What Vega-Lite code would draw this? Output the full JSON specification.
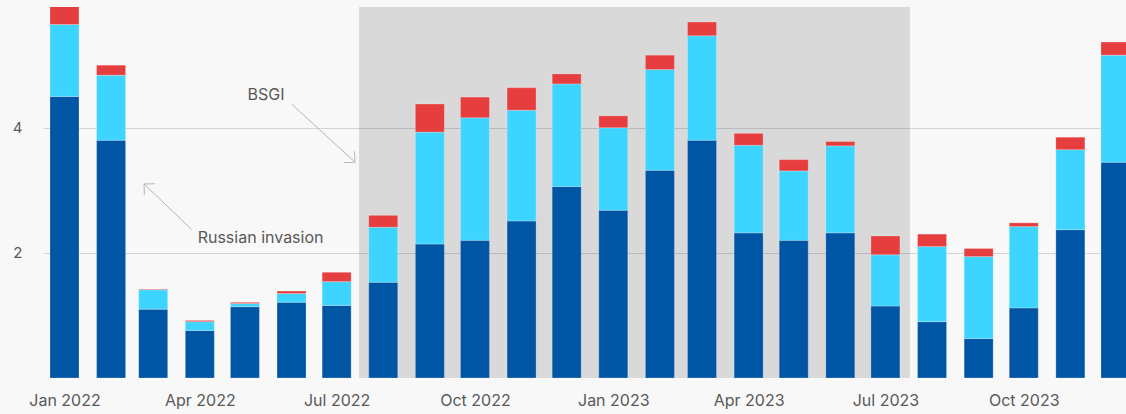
{
  "$schema": "https://vega.github.io/schema/vega-lite/v6.json",
  "width": 1083,
  "height": 371,
  "autosize": {"type": "none"},
  "padding": {"left": 43, "top": 7, "right": 0, "bottom": 36},
  "background": "#f8f8f8",
  "config": {"view": {"stroke": null}, "font": "Inter"},
  "datasets": {
    "bars": [
      {"month": "2022-01-01T00:00:00Z", "s1": 4.50, "s2": 1.15, "s3": 0.29},
      {"month": "2022-02-01T00:00:00Z", "s1": 3.80, "s2": 1.04, "s3": 0.16},
      {"month": "2022-03-01T00:00:00Z", "s1": 1.10, "s2": 0.31, "s3": 0.01},
      {"month": "2022-04-01T00:00:00Z", "s1": 0.76, "s2": 0.14, "s3": 0.02},
      {"month": "2022-05-01T00:00:00Z", "s1": 1.14, "s2": 0.05, "s3": 0.02},
      {"month": "2022-06-01T00:00:00Z", "s1": 1.21, "s2": 0.14, "s3": 0.04},
      {"month": "2022-07-01T00:00:00Z", "s1": 1.16, "s2": 0.38, "s3": 0.15},
      {"month": "2022-08-01T00:00:00Z", "s1": 1.53, "s2": 0.88, "s3": 0.19},
      {"month": "2022-09-01T00:00:00Z", "s1": 2.14, "s2": 1.79, "s3": 0.45},
      {"month": "2022-10-01T00:00:00Z", "s1": 2.20, "s2": 1.96, "s3": 0.33},
      {"month": "2022-11-01T00:00:00Z", "s1": 2.51, "s2": 1.77, "s3": 0.36},
      {"month": "2022-12-01T00:00:00Z", "s1": 3.06, "s2": 1.64, "s3": 0.16},
      {"month": "2023-01-01T00:00:00Z", "s1": 2.68, "s2": 1.32, "s3": 0.19},
      {"month": "2023-02-01T00:00:00Z", "s1": 3.32, "s2": 1.61, "s3": 0.23},
      {"month": "2023-03-01T00:00:00Z", "s1": 3.80, "s2": 1.67, "s3": 0.22},
      {"month": "2023-04-01T00:00:00Z", "s1": 2.32, "s2": 1.40, "s3": 0.19},
      {"month": "2023-05-01T00:00:00Z", "s1": 2.20, "s2": 1.11, "s3": 0.18},
      {"month": "2023-06-01T00:00:00Z", "s1": 2.32, "s2": 1.39, "s3": 0.07},
      {"month": "2023-07-01T00:00:00Z", "s1": 1.15, "s2": 0.82, "s3": 0.30},
      {"month": "2023-08-01T00:00:00Z", "s1": 0.90, "s2": 1.20, "s3": 0.20},
      {"month": "2023-09-01T00:00:00Z", "s1": 0.63, "s2": 1.31, "s3": 0.13},
      {"month": "2023-10-01T00:00:00Z", "s1": 1.12, "s2": 1.30, "s3": 0.06},
      {"month": "2023-11-01T00:00:00Z", "s1": 2.37, "s2": 1.28, "s3": 0.20},
      {"month": "2023-12-01T00:00:00Z", "s1": 3.45, "s2": 1.71, "s3": 0.21}
    ],
    "shade": [
      {"start": "2022-07-15T22:00:00Z", "end": "2023-07-17T07:00:00Z", "label": "BSGI"}
    ],
    "notes": [
      {"label": "BSGI", "x": "2022-06-01T00:00:00Z", "y": 4.38, "x2": "2022-07-13T05:00:00Z", "y2": 3.45, "tx": "2022-05-15T00:00:00Z", "ty": 4.52},
      {"label": "Russian invasion", "x": "2022-03-26T14:00:00Z", "y": 2.374, "x2": "2022-02-22T22:00:00Z", "y2": 3.10, "tx": "2022-05-11T10:00:00Z", "ty": 2.23}
    ]
  },
  "layer": [
    {
      "data": {"name": "shade"},
      "mark": {"type": "rect", "color": "#000000", "opacity": 0.12},
      "encoding": {
        "x": {"field": "start", "type": "temporal", "scale": {"type": "utc", "domain": [1639760400000, 1701993600000], "padding": 0}},
        "x2": {"field": "end"}
      }
    },
    {
      "data": {"name": "bars"},
      "transform": [{"fold": ["s1", "s2", "s3"], "as": ["series", "value"]}],
      "mark": {"type": "bar", "size": 29, "clip": true, "stroke": "#ffffff", "strokeOpacity": 0.3, "strokeWidth": 0.8},
      "encoding": {
        "x": {
          "field": "month", "type": "temporal",
          "scale": {"type": "utc", "domain": [1639760400000, 1701993600000], "padding": 0},
          "axis": {
            "values": [1640995200000, 1648771200000, 1656633600000, 1664582400000, 1672531200000, 1680307200000, 1688169600000, 1696118400000],
            "format": "%b %Y", "title": null, "grid": false, "domain": false, "ticks": false,
            "labelFontSize": 16, "labelColor": "#595959", "labelPadding": 14, "labelFlush": false, "labelOverlap": false
          }
        },
        "y": {
          "field": "value", "type": "quantitative", "stack": "zero",
          "scale": {"domain": [0, 5.93], "nice": false},
          "axis": {
            "values": [2, 4], "format": "d", "title": null, "domain": false, "ticks": false,
            "labelFontSize": 15, "labelColor": "#595959", "labelPadding": 21,
            "gridColor": "#d3d3d3", "gridWidth": 1
          }
        },
        "color": {
          "field": "series", "type": "nominal",
          "scale": {"domain": ["s1", "s2", "s3"], "range": ["#0055a4", "#3dd5ff", "#e63e3e"]},
          "legend": null
        },
        "order": {"field": "series"}
      }
    },
    {
      "data": {"name": "notes"},
      "mark": {"type": "rule", "color": "#b5b5b5", "strokeWidth": 1},
      "encoding": {
        "x": {"field": "x", "type": "temporal"},
        "y": {"field": "y", "type": "quantitative"},
        "x2": {"field": "x2"},
        "y2": {"field": "y2"}
      }
    },
    {
      "data": {"name": "notes"},
      "transform": [{"filter": "datum.label == 'BSGI'"}],
      "mark": {"type": "point", "shape": "M-1,-1L0,0L-1,1", "filled": false, "size": 240, "angle": 42.8, "color": "#b5b5b5", "strokeWidth": 1, "opacity": 1},
      "encoding": {
        "x": {"field": "x2", "type": "temporal"},
        "y": {"field": "y2", "type": "quantitative"}
      }
    },
    {
      "data": {"name": "notes"},
      "transform": [{"filter": "datum.label == 'Russian invasion'"}],
      "mark": {"type": "point", "shape": "M-1,-1L0,0L-1,1", "filled": false, "size": 240, "angle": 223.5, "color": "#b5b5b5", "strokeWidth": 1, "opacity": 1},
      "encoding": {
        "x": {"field": "x2", "type": "temporal"},
        "y": {"field": "y2", "type": "quantitative"}
      }
    },
    {
      "data": {"name": "notes"},
      "mark": {"type": "text", "fontSize": 16, "color": "#595959", "align": "center", "baseline": "middle"},
      "encoding": {
        "x": {"field": "tx", "type": "temporal"},
        "y": {"field": "ty", "type": "quantitative"},
        "text": {"field": "label"}
      }
    }
  ]
}
